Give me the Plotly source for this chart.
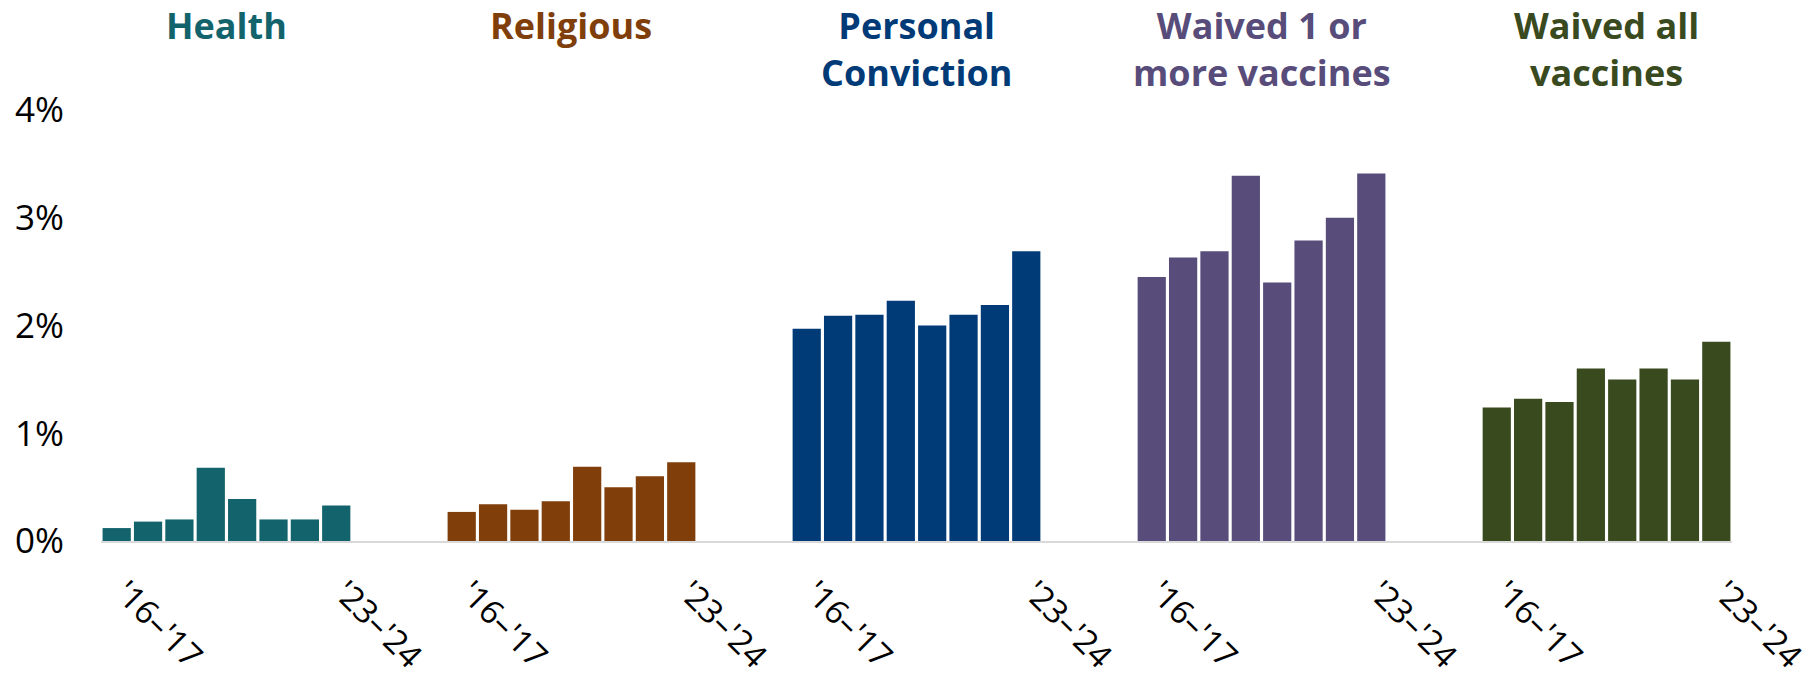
import plotly.graph_objects as go

# School years shown in each group (first and last are labelled on the axis)
years = ["'16–'17", "'17–'18", "'18–'19", "'19–'20",
         "'20–'21", "'21–'22", "'22–'23", "'23–'24"]

categories = ["Health", "Religious", "Personal<br>Conviction",
              "Waived 1 or<br>more vaccines", "Waived all<br>vaccines"]

# Exemption rates, percent of kindergartners
health = [0.12, 0.18, 0.20, 0.68, 0.39, 0.20, 0.20, 0.33]
religious = [0.27, 0.34, 0.29, 0.37, 0.69, 0.50, 0.60, 0.73]
personal = [1.97, 2.09, 2.10, 2.23, 2.00, 2.10, 2.19, 2.69]
waived_any = [2.45, 2.63, 2.69, 3.39, 2.40, 2.79, 3.00, 3.41]
waived_all = [1.24, 1.32, 1.29, 1.60, 1.50, 1.60, 1.50, 1.85]

series = [health, religious, personal, waived_any, waived_all]
colors = ["#12636B", "#7F3E0A", "#003B77", "#574C7A", "#3A4A1F"]

y_ticks = [0, 1, 2, 3, 4]
y_tick_text = ["0%", "1%", "2%", "3%", "4%"]

FONT = "Open Sans"
SLOTS_PER_GROUP = 11  # 8 bars plus 3 empty slots between groups

fig = go.Figure()
tickvals, ticktext = [], []
for g, (name, vals, col) in enumerate(zip(categories, series, colors)):
    xs = [g * SLOTS_PER_GROUP + i for i in range(len(vals))]
    fig.add_trace(go.Bar(
        x=xs, y=vals, marker=dict(color=col, line=dict(width=0)),
        name=name.replace("<br>", " "), customdata=years,
        hovertemplate="%{customdata}: %{y:.2f}%<extra>" + name.replace("<br>", " ") + "</extra>",
        showlegend=False,
    ))
    tickvals += [xs[0], xs[-1]]
    ticktext += [years[0], years[-1]]
    fig.add_annotation(
        x=(xs[0] + xs[-1]) / 2, xref="x", y=1, yref="paper",
        yanchor="top", yshift=111, text="<b>" + name + "</b>",
        showarrow=False, align="center",
        font=dict(family=FONT, size=36, color=col),
    )

n_slots = SLOTS_PER_GROUP * (len(series) - 1) + len(health)
fig.update_layout(
    width=1814, height=679,
    margin=dict(l=101, r=82, t=110, b=138),
    paper_bgcolor="white", plot_bgcolor="white",
    bargap=0.1,
    font=dict(family=FONT, size=35, color="black"),
)
fig.update_xaxes(
    range=[-0.5, n_slots - 0.5], tickvals=tickvals, ticktext=ticktext,
    tickangle=45, showgrid=False, zeroline=False, automargin=False,
    showline=True, linecolor="#D9D9D9", linewidth=2,
    ticks="", ticklabelstandoff=17, ticklabelshift=8,
    ticklabeloverflow="allow",
    tickfont=dict(family=FONT, size=33, color="black"),
)
fig.update_yaxes(
    range=[0, 4], tickvals=y_ticks, ticktext=y_tick_text,
    showgrid=False, zeroline=False, showline=False, automargin=False,
    ticks="", ticklabelstandoff=36,
    tickfont=dict(family=FONT, size=35, color="black"),
)

fig.write_html("out.html")
